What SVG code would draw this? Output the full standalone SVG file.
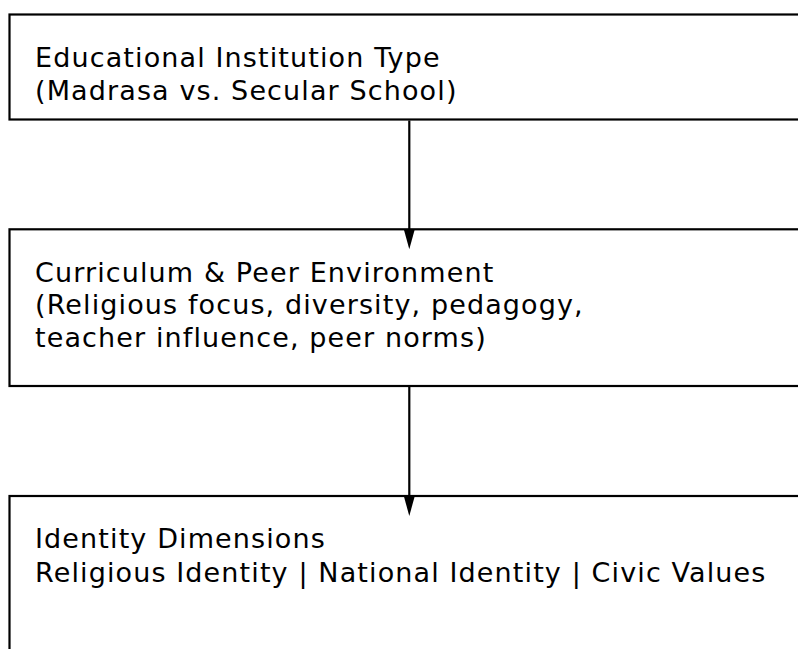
<svg xmlns="http://www.w3.org/2000/svg" width="798" height="649" viewBox="0 0 798 649">
  <style>
    .box { fill: #ffffff; stroke: #000000; stroke-width: 2.2; }
    .label { font-family: "DejaVu Sans", "Liberation Sans", sans-serif; font-size: 27px; letter-spacing: 1.12px; fill: #000000; }
    .edge { fill: none; stroke: #000000; stroke-width: 2.2; }
  </style>
  <defs>
    <marker id="arrowhead" markerUnits="userSpaceOnUse" markerWidth="22" markerHeight="12" refX="0" refY="6" orient="auto" viewBox="0 0 22 12">
      <path d="M0,0.5 L20,6 L0,11.5 Z" fill="#000000"/>
    </marker>
  </defs>
  <rect x="0" y="0" width="798" height="649" fill="#ffffff"/>

  <g id="node-institution">
    <rect class="box" x="9.5" y="14.5" width="900" height="105"/>
    <text class="label" x="35" y="67">Educational Institution Type</text>
    <text class="label" x="35" y="99.5">(Madrasa vs. Secular School)</text>
  </g>

  <g id="node-environment">
    <rect class="box" x="9.5" y="229.3" width="900" height="156.7"/>
    <text class="label" x="35" y="281.7">Curriculum &amp; Peer Environment</text>
    <text class="label" x="35" y="314.4">(Religious focus, diversity, pedagogy,</text>
    <text class="label" x="35" y="347.1">teacher influence, peer norms)</text>
  </g>

  <g id="node-identity">
    <rect class="box" x="9.5" y="496" width="900" height="200"/>
    <text class="label" x="35" y="548.4">Identity Dimensions</text>
    <text class="label" x="35" y="581.6">Religious Identity | National Identity | Civic Values</text>
  </g>

  <g id="connectors">
    <path class="edge" d="M409.3,120.5 L409.3,229.3" marker-end="url(#arrowhead)"/>
    <path class="edge" d="M409.3,387 L409.3,496" marker-end="url(#arrowhead)"/>
  </g>
</svg>
